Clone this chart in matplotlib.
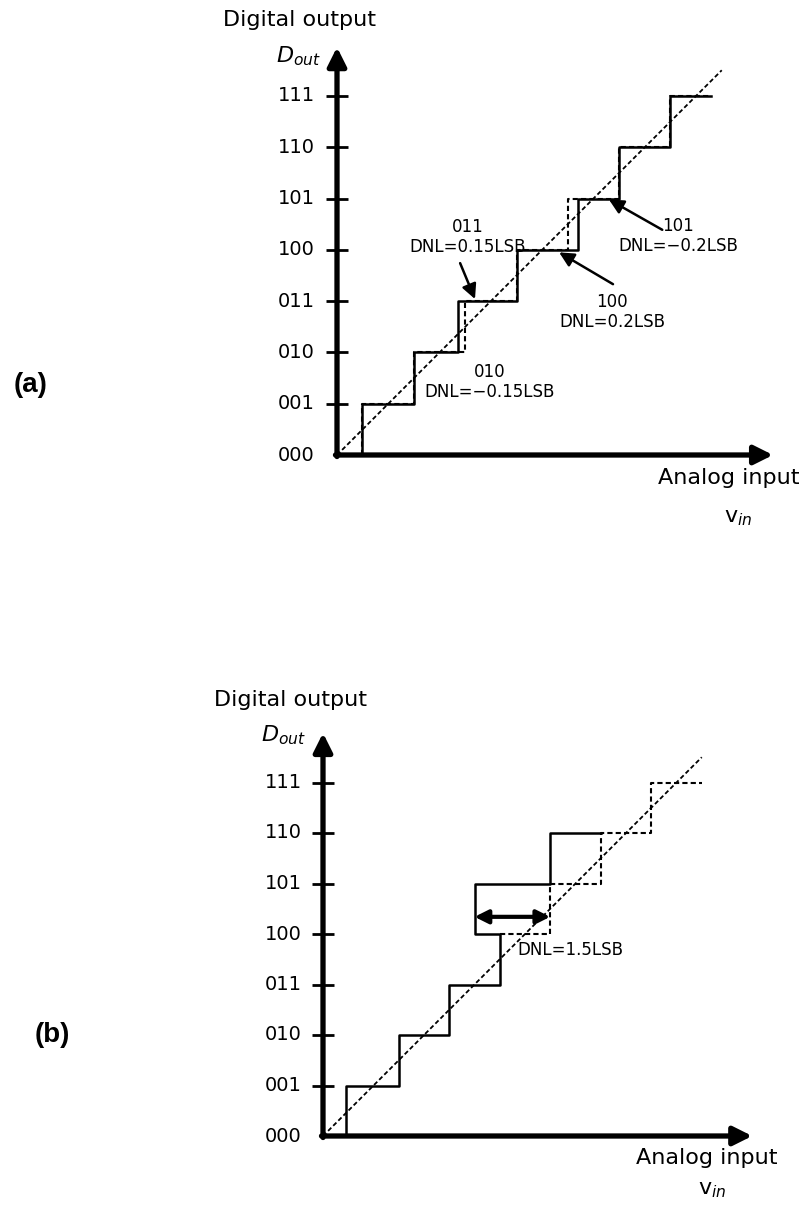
import numpy as np
import matplotlib
matplotlib.use("Agg")
import matplotlib.pyplot as plt

# DATA
codes = ["000", "001", "010", "011", "100", "101", "110", "111"]

# (a) code transition points in LSB
a_actual_edges = [0.49, 1.5, 2.35, 3.5, 4.7, 5.5, 6.5]
a_ideal_edges = [0.49, 1.5, 2.5, 3.5, 4.5, 5.5, 6.5]
a_end = 7.3
ideal_line = [0.0, 7.5]

a_notes = ["011\nDNL=0.15LSB", "101\nDNL=\u22120.2LSB", "100\nDNL=0.2LSB", "010\nDNL=\u22120.15LSB"]
a_note_xy = [(2.55, 4.25), (6.65, 4.27), (5.36, 2.78), (2.98, 1.43)]
a_arrow_from = [(2.40, 3.74), (6.34, 4.39), (5.38, 3.33), None]
a_arrow_to = [(2.69, 3.04), (5.30, 4.98), (4.33, 3.95), None]

# (b) non ideal transfer with a wide code 100
b_solid_x = [0, 0.45, 0.45, 1.5, 1.5, 2.5, 2.5, 3.5, 3.5, 3.0, 3.0, 4.5, 4.5, 5.5]
b_solid_y = [0, 0, 1, 1, 2, 2, 3, 3, 4, 4, 5, 5, 6, 6]
b_dash_x = [3.5, 4.5, 4.5, 5.5, 5.5, 6.5, 6.5, 7.5]
b_dash_y = [4, 4, 5, 5, 6, 6, 7, 7]
b_dnl_span = (3.0, 4.5, 4.34)
b_note = "DNL=1.5LSB"
b_note_xy = (3.84, 3.68)

DASH = (0, (2.5, 1.5))


def staircase(edges, end):
    xs, ys = [0.0], [0]
    for k, e in enumerate(edges):
        xs += [e, e]
        ys += [k, k + 1]
    xs.append(end)
    ys.append(len(edges))
    return xs, ys


def draw_frame(ax, ytop, xright, lbl, title_xy, dout_xy, ain_xy, vin_xy):
    # axes with arrow heads
    ax.annotate("", xy=(0, ytop), xytext=(0, -0.03),
                arrowprops=dict(arrowstyle="-|>", mutation_scale=28, lw=3.8,
                                color="k", shrinkA=0, shrinkB=0))
    ax.annotate("", xy=(xright, 0), xytext=(-0.03, 0),
                arrowprops=dict(arrowstyle="-|>", mutation_scale=28, lw=3.8,
                                color="k", shrinkA=0, shrinkB=0))
    levels = np.arange(1, len(codes))
    ax.hlines(levels, -0.21, 0.21, color="k", lw=2.0)
    for k, c in enumerate(codes):
        ax.text(lbl, k, c, ha="right", va="center", fontsize=14)
    ax.text(title_xy[0], title_xy[1], "Digital output", ha="center",
            va="center", fontsize=16)
    ax.text(dout_xy[0], dout_xy[1], r"$D_{out}$", ha="center", va="center",
            fontsize=16)
    ax.text(ain_xy[0], ain_xy[1], "Analog input", ha="center", va="center",
            fontsize=16)
    ax.text(vin_xy[0], vin_xy[1], r"$\mathrm{v}_{in}$", ha="center",
            va="center", fontsize=16)


fig = plt.figure(figsize=(8.1, 12.07), dpi=100)

# panel (a): origin at (337,455) px, 51.3 px per LSB
ax_a = fig.add_axes([0, 1 - 600 / 1207, 1, 600 / 1207])
ax_a.set_xlim(-337 / 51.3, (810 - 337) / 51.3)
ax_a.set_ylim(-145 / 51.3, 455 / 51.3)
ax_a.axis("off")

draw_frame(ax_a, 7.95, 8.5, -0.43, (-0.74, 8.48), (-0.74, 7.78),
           (7.64, -0.45), (7.82, -1.23))
xs, ys = staircase(a_actual_edges, a_end)
ax_a.plot(xs, ys, color="k", lw=1.8)
xs, ys = staircase(a_ideal_edges, a_end)
ax_a.plot(xs, ys, color="k", lw=1.5, ls=DASH)
ax_a.plot(ideal_line, ideal_line, color="k", lw=1.3, ls=DASH)

for txt, xy, p0, p1 in zip(a_notes, a_note_xy, a_arrow_from, a_arrow_to):
    ax_a.text(xy[0], xy[1], txt, ha="center", va="center", fontsize=12,
              linespacing=1.15)
    if p0 is not None:
        ax_a.annotate("", xy=p1, xytext=p0,
                      arrowprops=dict(arrowstyle="-|>", mutation_scale=22,
                                      lw=1.8, color="k", shrinkA=0, shrinkB=0))

# panel (b): origin at (323,1136) px, 50.5 px per LSB
ax_b = fig.add_axes([0, 0, 1, 607 / 1207])
ax_b.set_xlim(-323 / 50.5, (810 - 323) / 50.5)
ax_b.set_ylim(-71 / 50.5, 536 / 50.5)
ax_b.axis("off")

draw_frame(ax_b, 7.98, 8.5, -0.42, (-0.65, 8.63), (-0.79, 7.94),
           (7.6, -0.44), (7.7, -1.07))
ax_b.plot(b_solid_x, b_solid_y, color="k", lw=1.8)
ax_b.plot(b_dash_x, b_dash_y, color="k", lw=1.5, ls=DASH)
ax_b.plot(ideal_line, ideal_line, color="k", lw=1.3, ls=DASH)
ax_b.annotate("", xy=(b_dnl_span[1], b_dnl_span[2]),
              xytext=(b_dnl_span[0], b_dnl_span[2]),
              arrowprops=dict(arrowstyle="<|-|>", mutation_scale=20, lw=3.0,
                              color="k", shrinkA=0, shrinkB=0))
ax_b.text(b_note_xy[0], b_note_xy[1], b_note, ha="left", va="center",
          fontsize=12)

fig.text(31 / 810, 1 - 385 / 1207, "(a)", ha="center", va="center",
         fontsize=20, fontweight="bold", family="Liberation Sans")
fig.text(52 / 810, 1 - 1035 / 1207, "(b)", ha="center", va="center",
         fontsize=20, fontweight="bold", family="Liberation Sans")

fig.savefig("out.png", dpi=100)
